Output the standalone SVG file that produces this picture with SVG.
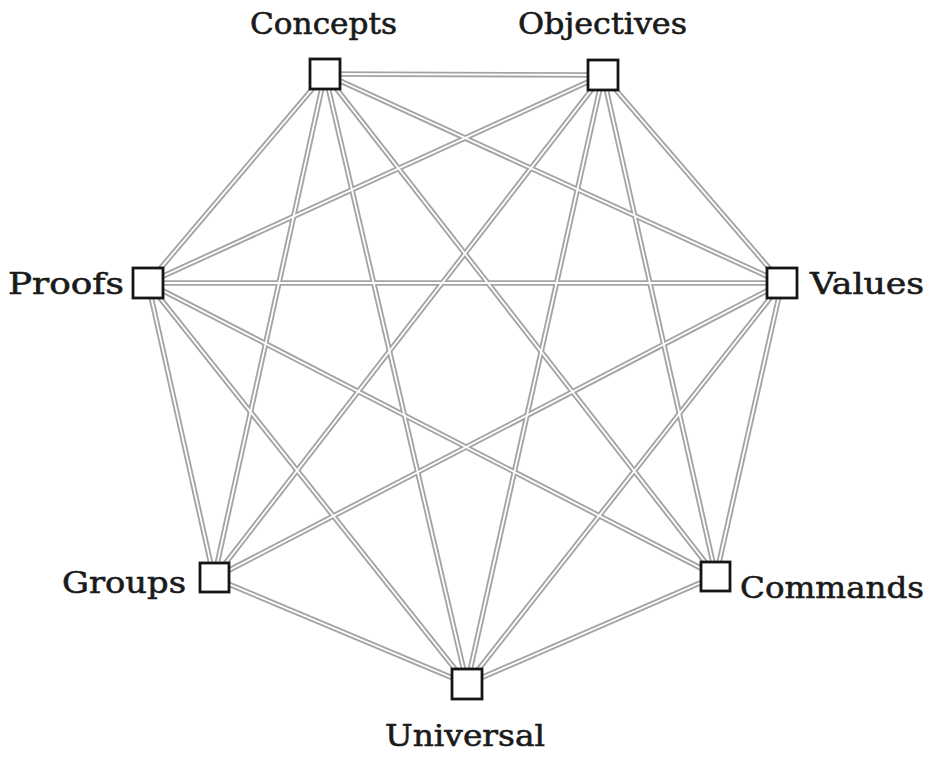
<svg xmlns="http://www.w3.org/2000/svg" xmlns:xlink="http://www.w3.org/1999/xlink" width="934" height="758" viewBox="0 0 934 758">
<style>
.lbl{font-family:"DejaVu Serif","Liberation Serif",serif;font-size:30px;fill:#1a1a1a;stroke:#1a1a1a;stroke-width:0.6px;}
.box{fill:#fff;stroke:#151515;stroke-width:2.8;}
.outer{stroke:#a4a4a4;stroke-width:5.5;fill:none;}
.inner{stroke:#fff;stroke-width:1.8;fill:none;}
</style>
<defs>
<path id="e1" d="M325,74 L603,75"/>
<path id="e2" d="M325,74 L148,283"/>
<path id="e3" d="M325,74 L782,283"/>
<path id="e4" d="M325,74 L214,578"/>
<path id="e5" d="M325,74 L716,576"/>
<path id="e6" d="M325,74 L467,684"/>
<path id="e7" d="M603,75 L148,283"/>
<path id="e8" d="M603,75 L782,283"/>
<path id="e9" d="M603,75 L214,578"/>
<path id="e10" d="M603,75 L716,576"/>
<path id="e11" d="M603,75 L467,684"/>
<path id="e12" d="M148,283 L782,283"/>
<path id="e13" d="M148,283 L214,578"/>
<path id="e14" d="M148,283 L716,576"/>
<path id="e15" d="M148,283 L467,684"/>
<path id="e16" d="M782,283 L214,578"/>
<path id="e17" d="M782,283 L716,576"/>
<path id="e18" d="M782,283 L467,684"/>
<path id="e19" d="M214,578 L467,684"/>
<path id="e20" d="M716,576 L467,684"/>
</defs>
<rect width="934" height="758" fill="#fff"/>
<g id="connectors">
<g class="outer">
<use xlink:href="#e1"/><use xlink:href="#e2"/><use xlink:href="#e3"/><use xlink:href="#e4"/><use xlink:href="#e5"/>
<use xlink:href="#e6"/><use xlink:href="#e7"/><use xlink:href="#e8"/><use xlink:href="#e9"/><use xlink:href="#e10"/>
<use xlink:href="#e11"/><use xlink:href="#e12"/><use xlink:href="#e13"/><use xlink:href="#e14"/><use xlink:href="#e15"/>
<use xlink:href="#e16"/><use xlink:href="#e17"/><use xlink:href="#e18"/><use xlink:href="#e19"/><use xlink:href="#e20"/>
</g>
<g class="inner">
<use xlink:href="#e1"/><use xlink:href="#e2"/><use xlink:href="#e3"/><use xlink:href="#e4"/><use xlink:href="#e5"/>
<use xlink:href="#e6"/><use xlink:href="#e7"/><use xlink:href="#e8"/><use xlink:href="#e9"/><use xlink:href="#e10"/>
<use xlink:href="#e11"/><use xlink:href="#e12"/><use xlink:href="#e13"/><use xlink:href="#e14"/><use xlink:href="#e15"/>
<use xlink:href="#e16"/><use xlink:href="#e17"/><use xlink:href="#e18"/><use xlink:href="#e19"/><use xlink:href="#e20"/>
</g>
</g>
<g id="concepts"><rect class="box" x="310" y="59" width="30" height="30"/><text class="lbl" x="250" y="34" textLength="147" lengthAdjust="spacingAndGlyphs">Concepts</text></g>
<g id="objectives"><rect class="box" x="588" y="60" width="30" height="30"/><text class="lbl" x="518" y="34" textLength="169" lengthAdjust="spacingAndGlyphs">Objectives</text></g>
<g id="proofs"><rect class="box" x="133" y="268" width="30" height="30"/><text class="lbl" x="8" y="294" textLength="116" lengthAdjust="spacingAndGlyphs">Proofs</text></g>
<g id="values"><rect class="box" x="767" y="268" width="30" height="30"/><text class="lbl" x="810" y="294" textLength="114" lengthAdjust="spacingAndGlyphs">Values</text></g>
<g id="groups"><rect class="box" x="200" y="563" width="29" height="29"/><text class="lbl" x="62" y="593" textLength="124" lengthAdjust="spacingAndGlyphs">Groups</text></g>
<g id="commands"><rect class="box" x="701" y="562" width="29" height="29"/><text class="lbl" x="740" y="598" textLength="184" lengthAdjust="spacingAndGlyphs">Commands</text></g>
<g id="universal"><rect class="box" x="452" y="669" width="30" height="30"/><text class="lbl" x="385" y="746" textLength="160" lengthAdjust="spacingAndGlyphs">Universal</text></g>
</svg>
